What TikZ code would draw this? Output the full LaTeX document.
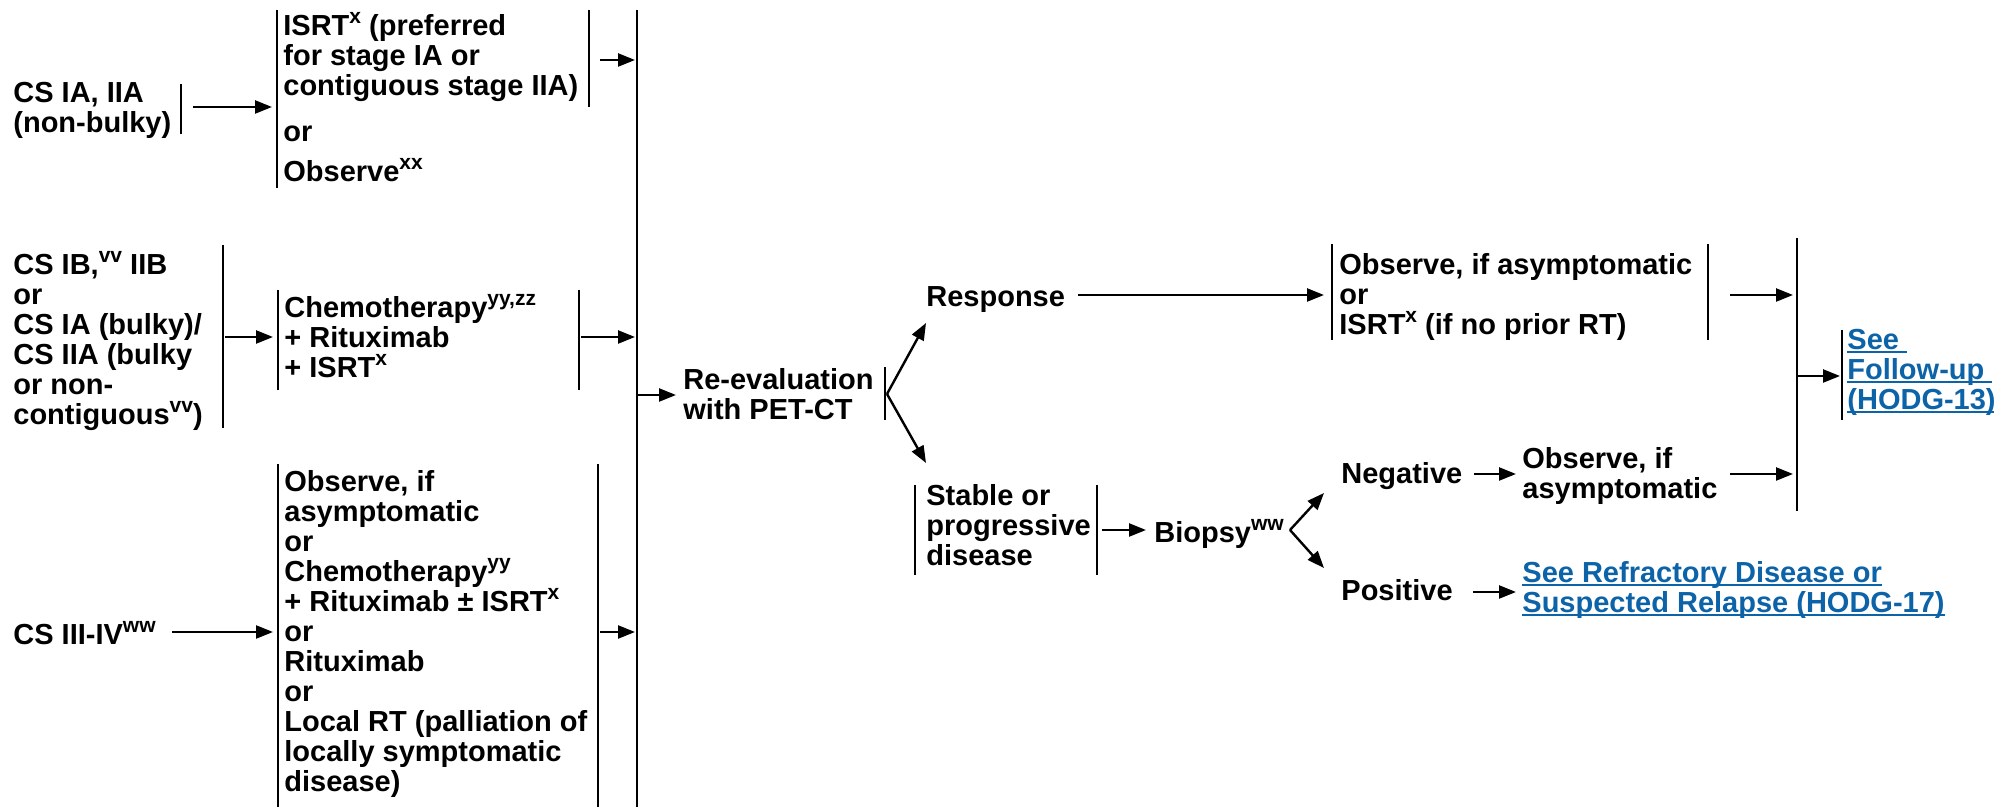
\documentclass[tikz,border=0pt]{standalone}
\usepackage{fontspec}
\setmainfont{Liberation Sans}
\usetikzlibrary{arrows.meta}
\definecolor{linkblue}{RGB}{12,99,168}
\newsavebox\ulbox
\newcommand\sx[1]{\raisebox{0.40em}{\fontsize{10.5}{10.5}\selectfont #1}}
\newcommand\ulk[1]{\sbox\ulbox{#1}\rlap{\rule[-1.8pt]{\wd\ulbox}{0.9pt}}\usebox\ulbox}
\newcommand\mf{\fontsize{14.5}{15}\selectfont\bfseries}
\tikzset{
  txt/.style={anchor=north west, inner sep=0pt, align=left, font=\mf,
    execute at begin node=\strut, execute at end node=\strut},
  lnk/.style={txt, text=linkblue},
  bar/.style={line width=1.3pt},
  arr/.style={line width=1.2pt, -{Triangle[length=8.5pt,width=6.5pt]}},
}
\begin{document}
\begin{tikzpicture}[x=0.5pt,y=-0.5pt]
\useasboundingbox (0,0) rectangle (1994,807);
% ---------- group 1
\node[txt] (g1) at (13,82) {CS IA, IIA\\(non-bulky)};
\draw[bar] (181,84) -- (181,134);
\coordinate (a1s) at (193,107); \coordinate (a1e) at (272,107);
\draw[arr] (a1s) -- (a1e);
\draw[bar] (277,10) -- (277,188);
\node[txt] (t1) at (283,12) {ISRT\sx{x} (preferred\\for stage IA or\\contiguous stage IIA)};
\node[txt] (t1or) at (283,120) {or};
\node[txt] (t1obs) at (283,158) {Observe\sx{xx}};
\draw[bar] (589,10) -- (589,107);
\coordinate (b1s) at (600,60); \coordinate (b1e) at (635,60);
\draw[arr] (b1s) -- (b1e);
% main left bar
\draw[bar] (637,10) -- (637,807);
% ---------- group 2
\node[txt] (g2) at (13,251) {CS IB,\sx{vv} IIB\\or\\CS IA (bulky)/\\CS IIA (bulky\\or non-\\contiguous\sx{vv})};
\draw[bar] (223,245) -- (223,428);
\coordinate (a2s) at (225,337); \coordinate (a2e) at (273,337);
\draw[arr] (a2s) -- (a2e);
\draw[bar] (278,290) -- (278,390);
\node[txt] (t2) at (284,294) {Chemotherapy\sx{yy,zz}\\+ Rituximab\\+ ISRT\sx{x}};
\draw[bar] (579,290) -- (579,390);
\coordinate (b2s) at (581,337); \coordinate (b2e) at (635,337);
\draw[arr] (b2s) -- (b2e);
% ---------- group 3
\node[txt] (g3) at (13,621) {CS III-IV\sx{ww}};
\coordinate (a3s) at (172,632); \coordinate (a3e) at (273,632);
\draw[arr] (a3s) -- (a3e);
\draw[bar] (278,464) -- (278,807);
\node[txt] (t3) at (284,470) {Observe, if\\asymptomatic\\or\\Chemotherapy\sx{yy}\\+ Rituximab \textpm{} ISRT\sx{x}\\or\\Rituximab\\or\\Local RT (palliation of\\locally symptomatic\\disease)};
\draw[bar] (598,464) -- (598,807);
\coordinate (b3s) at (600,632); \coordinate (b3e) at (635,632);
\draw[arr] (b3s) -- (b3e);
% ---------- centre
\coordinate (m1) at (637,395); \coordinate (m1e) at (676,395);
\draw[arr] (m1) -- (m1e);
\node[txt] (reev) at (683,368) {Re-evaluation\\with PET-CT};
\draw[bar] (885,367) -- (885,420);
\coordinate (apx) at (887,394);
\coordinate (upt) at (926,323); \coordinate (dnt) at (926,463);
\draw[arr] (apx) -- (upt);
\draw[arr] (apx) -- (dnt);
\node[txt] (resp) at (926,285) {Response};
\coordinate (r1) at (1078,295); \coordinate (r1e) at (1324,295);
\draw[arr] (r1) -- (r1e);
\draw[bar] (1332,244) -- (1332,340);
\node[txt] (obs1) at (1339,253) {Observe, if asymptomatic\\or\\ISRT\sx{x} (if no prior RT)};
\draw[bar] (1708,244) -- (1708,340);
\coordinate (o1s) at (1730,295); \coordinate (o1e) at (1793,295);
\draw[arr] (o1s) -- (o1e);
\draw[bar] (1797,238) -- (1797,511);
\coordinate (f1s) at (1797,376); \coordinate (f1e) at (1840,376);
\draw[arr] (f1s) -- (f1e);
\draw[bar] (1842,330) -- (1842,420);
\node[lnk] (fu) at (1847,329) {\ulk{See }\\\ulk{Follow-up }\\\ulk{(HODG-13)}};
% stable
\draw[bar] (915,485) -- (915,575);
\node[txt] (stab) at (926,484) {Stable or\\progressive\\disease};
\draw[bar] (1097,485) -- (1097,575);
\coordinate (s1s) at (1102,530); \coordinate (s1e) at (1146,530);
\draw[arr] (s1s) -- (s1e);
\node[txt] (bio) at (1154,519) {Biopsy\sx{ww}};
\coordinate (apx2) at (1290,530);
\coordinate (up2) at (1324,493); \coordinate (dn2) at (1324,568);
\draw[arr] (apx2) -- (up2);
\draw[arr] (apx2) -- (dn2);
\node[txt] (neg) at (1341,462) {Negative};
\coordinate (n1s) at (1474,474); \coordinate (n1e) at (1516,474);
\draw[arr] (n1s) -- (n1e);
\node[txt] (obs2) at (1522,447) {Observe, if\\asymptomatic};
\coordinate (n2s) at (1730,474); \coordinate (n2e) at (1793,474);
\draw[arr] (n2s) -- (n2e);
\node[txt] (pos) at (1341,579) {Positive};
\coordinate (p1s) at (1473,592); \coordinate (p1e) at (1516,592);
\draw[arr] (p1s) -- (p1e);
\node[lnk] (refr) at (1522,561) {\ulk{See Refractory Disease or}\\\ulk{Suspected Relapse (HODG-17)}};
\end{tikzpicture}
\end{document}
